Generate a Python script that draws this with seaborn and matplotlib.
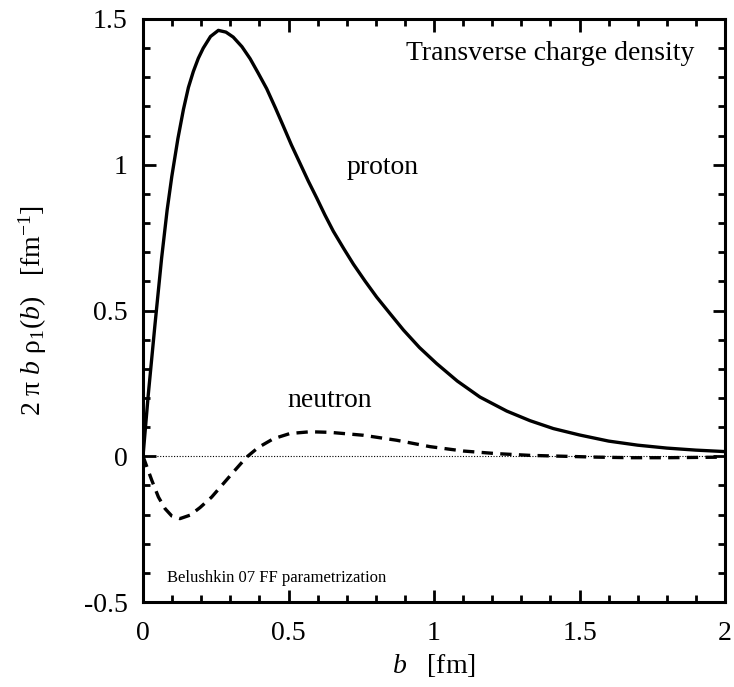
import matplotlib
matplotlib.use("Agg")
import matplotlib.pyplot as plt
import seaborn as sns
import pandas as pd
from matplotlib.ticker import MultipleLocator

# ---- data ----
b_proton = [0.0, 0.018, 0.041, 0.064, 0.083, 0.099, 0.12, 0.139, 0.156, 0.173, 0.19,
            0.207, 0.232, 0.259, 0.285, 0.310, 0.34, 0.368, 0.395, 0.425, 0.455, 0.482,
            0.51, 0.54, 0.568, 0.597, 0.625, 0.654, 0.69, 0.723, 0.763, 0.803, 0.85,
            0.895, 0.95, 1.009, 1.08, 1.158, 1.25, 1.33, 1.41, 1.5, 1.6, 1.7, 1.8, 1.9, 2.0]
rho_proton = [0.0, 0.21, 0.45, 0.68, 0.845, 0.96, 1.09, 1.19, 1.265, 1.32, 1.365,
              1.40, 1.44, 1.461, 1.455, 1.438, 1.405, 1.364, 1.316, 1.261, 1.195, 1.133,
              1.068, 1.004, 0.944, 0.886, 0.828, 0.772, 0.712, 0.659, 0.601, 0.546, 0.488,
              0.433, 0.373, 0.318, 0.258, 0.203, 0.155, 0.122, 0.095, 0.073, 0.052, 0.038,
              0.028, 0.021, 0.016]

b_neutron = [0.0, 0.007, 0.030, 0.053, 0.076, 0.099, 0.127, 0.162, 0.196, 0.236, 0.276,
             0.316, 0.356, 0.396, 0.448, 0.505, 0.574, 0.643, 0.757, 0.871, 0.986, 1.100,
             1.215, 1.330, 1.444, 1.558, 1.673, 1.8, 1.9, 2.0]
rho_neutron = [0.0, -0.019, -0.082, -0.140, -0.180, -0.205, -0.214, -0.202, -0.176, -0.140,
               -0.094, -0.048, -0.003, 0.030, 0.060, 0.078, 0.084, 0.082, 0.072, 0.055,
               0.033, 0.018, 0.009, 0.003, 0.0, -0.003, -0.005, -0.005, -0.004, -0.003]

x_ticks = [0, 0.5, 1, 1.5, 2]
x_tick_labels = ["0", "0.5", "1", "1.5", "2"]
y_ticks = [-0.5, 0, 0.5, 1, 1.5]
y_tick_labels = ["-0.5", "0", "0.5", "1", "1.5"]

df = pd.concat([
    pd.DataFrame({"b": b_proton, "rho": rho_proton, "nucleon": "proton"}),
    pd.DataFrame({"b": b_neutron, "rho": rho_neutron, "nucleon": "neutron"}),
])

sns.set_theme(style="ticks")
plt.rcParams["font.family"] = ["Liberation Serif", "DejaVu Serif"]
plt.rcParams["mathtext.fontset"] = "custom"
plt.rcParams["mathtext.rm"] = "Liberation Serif"
plt.rcParams["mathtext.it"] = "Liberation Serif:italic"
for key in ["text.color", "axes.labelcolor", "xtick.color", "ytick.color", "axes.edgecolor"]:
    plt.rcParams[key] = "black"

fig = plt.figure(figsize=(7.34, 6.87), dpi=100)
ax = fig.add_axes([143/734, 1-602/687, (725-143)/734, (602-19)/687])

ax.axhline(0, color="black", lw=0.8, ls=(0, (1, 1.5)), zorder=1)

sns.lineplot(data=df, x="b", y="rho", hue="nucleon", style="nucleon",
             palette={"proton": "black", "neutron": "black"},
             dashes={"proton": "", "neutron": (3.4, 2.2)},
             linewidth=2.4, legend=False, ax=ax, sort=False)

ax.set_xlim(0, 2)
ax.set_ylim(-0.5, 1.5)
ax.set_xticks(x_ticks)
ax.set_xticklabels(x_tick_labels)
ax.set_yticks(y_ticks)
ax.set_yticklabels(y_tick_labels)
ax.xaxis.set_minor_locator(MultipleLocator(0.1))
ax.yaxis.set_minor_locator(MultipleLocator(0.1))
ax.tick_params(which="both", direction="in", top=True, right=True, width=2, colors="black")
ax.tick_params(which="major", length=9, labelsize=20)
ax.tick_params(axis="x", which="major", pad=14)
ax.tick_params(axis="y", which="major", pad=11)
ax.tick_params(which="minor", length=5)
for sp in ax.spines.values():
    sp.set_linewidth(2.2)
    sp.set_color("black")

ax.set_xlabel(r"$b$   [fm]", fontsize=20)
ax.set_ylabel(r"2 π $b$ ρ$_1$($b$)   [fm$^{-1}$]", fontsize=20)
ax.xaxis.set_label_coords(0.5, -0.085)
ax.yaxis.set_label_coords(-0.162, 0.5)

ax.text(0.948, 0.962, "Transverse charge density", transform=ax.transAxes,
        ha="right", va="top", fontsize=20)
ax.text(0.825, 0.99, "proton", fontsize=20, ha="center", va="center")
ax.text(0.643, 0.192, "neutron", fontsize=20, ha="center", va="center")
ax.text(0.082, -0.419, "Belushkin 07 FF parametrization", fontsize=12, ha="left", va="center")

fig.savefig("out.png", dpi=100)
